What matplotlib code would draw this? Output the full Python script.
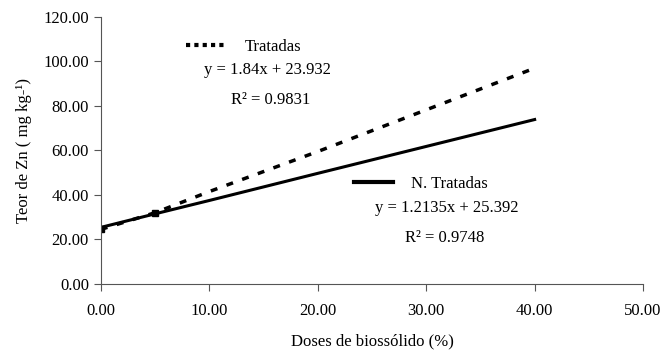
import matplotlib.pyplot as plt
from matplotlib.lines import Line2D

plt.rcParams['font.family'] = ['Liberation Serif', 'DejaVu Serif']

# Doses and Zn contents
doses = [0, 5, 10, 20, 40]
zn_tratadas = [24.5, 32.0, 41.5, 59.5, 97.0]
zn_nao_tratadas = [25.4, 31.5, 37.5, 49.7, 73.9]

x_ticks = [0, 10, 20, 30, 40, 50]
y_ticks = [0, 20, 40, 60, 80, 100, 120]

fs = 12

fig = plt.figure(figsize=(6.63, 3.54), dpi=100)
ax = fig.add_axes([0.152, 0.198, 0.818, 0.754])

ax.plot(doses, zn_tratadas, color='black', lw=2.5, ls=(0, (2.0, 2.8)),
        marker='s', markersize=4, markevery=[0, 1])
ax.plot(doses, zn_nao_tratadas, color='black', lw=2.2)

ax.set_xlim(0, 50)
ax.set_ylim(0, 120)
ax.set_xticks(x_ticks)
ax.set_yticks(y_ticks)
ax.set_xticklabels(['%.2f' % v for v in x_ticks])
ax.set_yticklabels(['%.2f' % v for v in y_ticks])
ax.tick_params(direction='out', length=5, width=0.8, labelsize=fs, color='#555555')
ax.tick_params(axis='x', pad=9)
for s in ['top', 'right']:
    ax.spines[s].set_visible(False)
for s in ['left', 'bottom']:
    ax.spines[s].set_color('#555555')
    ax.spines[s].set_linewidth(0.8)

ax.set_xlabel('Doses de biossólido (%)', fontsize=fs, labelpad=10)
ax.set_ylabel('Teor de Zn ( mg kg-¹)', fontsize=fs, labelpad=8)

# legend-like labels with the regression equations
h1 = Line2D([], [], color='black', lw=3, ls=(0, (1, 1)))
leg1 = ax.legend([h1], ['Tratadas'], loc='upper left', bbox_to_anchor=(0.13, 0.975),
                 frameon=False, fontsize=fs, handlelength=2.3, handletextpad=1.2)
ax.add_artist(leg1)
ax.text(0.308, 0.786, 'y = 1.84x + 23.932', transform=ax.transAxes, fontsize=fs, ha='center')
ax.text(0.313, 0.674, 'R² = 0.9831', transform=ax.transAxes, fontsize=fs, ha='center')

h2 = Line2D([], [], color='black', lw=3)
ax.legend([h2], ['N. Tratadas'], loc='upper left', bbox_to_anchor=(0.44, 0.46),
          frameon=False, fontsize=fs, handlelength=2.3, handletextpad=1.1)
ax.text(0.638, 0.27, 'y = 1.2135x + 25.392', transform=ax.transAxes, fontsize=fs, ha='center')
ax.text(0.635, 0.157, 'R² = 0.9748', transform=ax.transAxes, fontsize=fs, ha='center')

fig.savefig('out.png', dpi=100)
